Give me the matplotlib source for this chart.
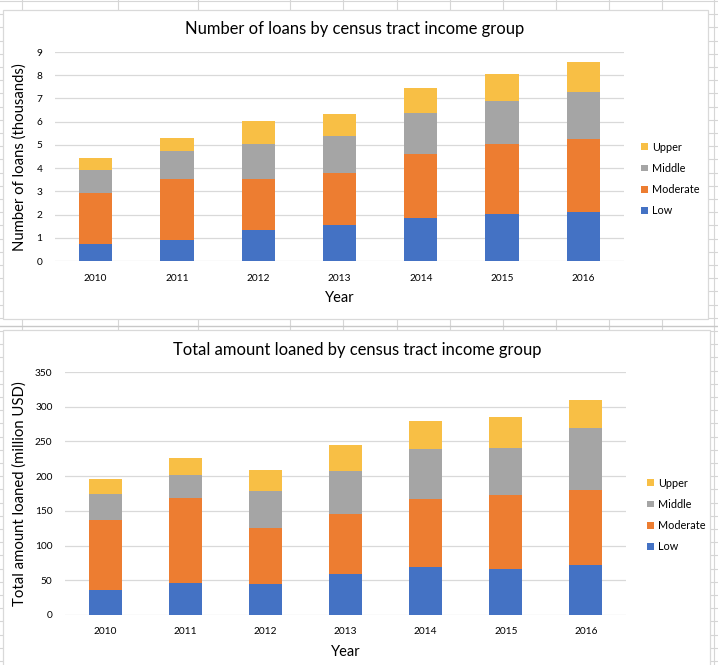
import matplotlib
matplotlib.use("Agg")
from matplotlib import pyplot as plt
from matplotlib.patches import Rectangle
from matplotlib.lines import Line2D

plt.rcParams['font.family'] = ['Lato', 'DejaVu Sans']

# data
years = ['2010', '2011', '2012', '2013', '2014', '2015', '2016']
groups = ['Low', 'Moderate', 'Middle', 'Upper']

# number of loans, thousands
loans_low = [0.74, 0.92, 1.34, 1.56, 1.86, 2.03, 2.12]
loans_moderate = [2.17, 2.59, 2.17, 2.25, 2.73, 2.99, 3.12]
loans_middle = [0.99, 1.21, 1.51, 1.56, 1.77, 1.86, 2.03]
loans_upper = [0.52, 0.56, 1.00, 0.95, 1.09, 1.17, 1.30]

# total amount loaned, million USD
amount_low = [36.5, 46, 45, 59, 69, 66, 72]
amount_moderate = [101, 123, 80.5, 87, 98, 107, 108]
amount_middle = [37.5, 33, 53.5, 62, 72, 68, 90]
amount_upper = [21, 24, 30, 37, 41, 44.5, 40]

colors = ['#4472C4', '#ED7D31', '#A5A5A5', '#F8BF45']

W, H = 718, 665
grid_col = '#D6D6D6'

fig = plt.figure(figsize=(W / 100, H / 100), dpi=100)


def fx(x):
    return x / W


def fy(y):
    return 1 - y / H


# spreadsheet cells behind the charts
col_x = [22, 118, 198, 290, 343, 397, 450, 503, 556, 609, 662, 714]
row_h = 13.2
y = 1.0
while y < H:
    fig.add_artist(Line2D([0, 1], [fy(y), fy(y)], color=grid_col, lw=0.8, zorder=0))
    y += row_h
for x in col_x:
    fig.add_artist(Line2D([fx(x), fx(x)], [0, 1], color=grid_col, lw=0.8, zorder=0))
fig.add_artist(Line2D([0, 1], [fy(326), fy(326)], color='#C8C8C8', lw=1.0, zorder=0))

# chart boxes
for (x0, y0, x1, y1) in [(3, 10, 708, 319), (3, 330, 710, 668)]:
    fig.add_artist(Rectangle((fx(x0), fy(y1)), fx(x1) - fx(x0), fy(y0) - fy(y1),
                             transform=fig.transFigure, facecolor='white',
                             edgecolor='#D9D9D9', lw=0.9, zorder=1))


def stacked(rect, series, ymax, step, title, title_xy, ylabel, ylabel_xy, legend_xy):
    ax = fig.add_axes([fx(rect[0]), fy(rect[3]), fx(rect[2]) - fx(rect[0]), fy(rect[1]) - fy(rect[3])])
    ax.set_zorder(2)
    ax.patch.set_alpha(0)
    bottom = [0] * len(years)
    bars = []
    for vals, c, name in zip(series, colors, groups):
        b = ax.bar(years, vals, 0.41, bottom=bottom, color=c, label=name, zorder=3)
        bars.append(b)
        bottom = [a + v for a, v in zip(bottom, vals)]
    ax.set_ylim(0, ymax)
    ax.set_yticks(range(0, ymax + 1, step))
    ax.set_xlim(-0.5, len(years) - 0.5)
    ax.grid(axis='y', color='#D9D9D9', lw=0.9, zorder=0)
    for s in ax.spines.values():
        s.set_visible(False)
    ax.tick_params(length=0, labelsize=7.3, colors='#000000')
    ax.tick_params(axis='x', pad=9)
    ax.tick_params(axis='y', pad=9)
    ax.set_xlabel('Year', fontsize=10.5, labelpad=6)
    fig.text(fx(title_xy[0]), fy(title_xy[1]), title, fontsize=11.9, ha='center', va='center')
    fig.text(fx(ylabel_xy[0]), fy(ylabel_xy[1]), ylabel, fontsize=10.7, rotation=90,
             ha='center', va='center')
    ax.legend(bars[::-1], groups[::-1], loc='center left', frameon=False,
              bbox_to_anchor=(fx(legend_xy[0]), fy(legend_xy[1])), bbox_transform=fig.transFigure,
              fontsize=7.8, handlelength=0.6, handleheight=0.6, handletextpad=0.4,
              labelspacing=0.95, borderpad=0)
    return ax


stacked((55, 52, 624, 261), [loans_low, loans_moderate, loans_middle, loans_upper], 9, 1,
        'Number of loans by census tract income group', (355, 29),
        'Number of loans (thousands)', (20, 157), (636, 179))
stacked((65, 372, 626, 615), [amount_low, amount_moderate, amount_middle, amount_upper], 350, 50,
        'Total amount loaned by census tract income group', (357, 350),
        'Total amount loaned (million USD)', (20, 494), (642, 515))

fig.savefig('out.png', dpi=100)
